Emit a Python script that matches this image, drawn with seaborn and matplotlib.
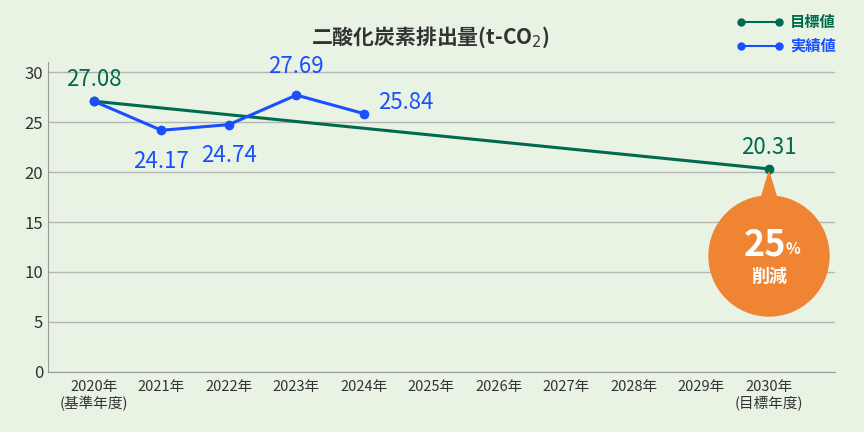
import numpy as np
import pandas as pd
import seaborn as sns
import matplotlib.pyplot as plt
from matplotlib.patches import Ellipse, Polygon
from matplotlib.lines import Line2D

plt.rcParams['font.family'] = ['Noto Sans CJK JP', 'DejaVu Sans']

years = list(range(2020, 2031))
tick_labels = ['2020年\n(基準年度)'] + [f'{y}年' for y in range(2021, 2030)] + ['2030年\n(目標年度)']
target_years = [2020, 2030]
target_values = [27.08, 20.31]
actual_years = [2020, 2021, 2022, 2023, 2024]
actual_values = [27.08, 24.17, 24.74, 27.69, 25.84]
actual_label_offsets = [None, -14, -14, 12, 1]

BG = '#e8f3e3'
GREEN = '#006a4e'
BLUE = '#1a4fff'
ORANGE = '#ef8433'

fig = plt.figure(figsize=(8.64, 4.32), dpi=100, facecolor=BG)
ax = fig.add_axes([48/864, 1 - 372/432, (835-48)/864, (372-62)/432])
ax.set_facecolor(BG)

tdf = pd.DataFrame({'year': target_years, 'value': target_values})
adf = pd.DataFrame({'year': actual_years, 'value': actual_values})
sns.lineplot(data=tdf, x='year', y='value', ax=ax, color=GREEN, lw=2.2,
             marker='o', markersize=7, markeredgewidth=0)
sns.lineplot(data=adf, x='year', y='value', ax=ax, color=BLUE, lw=2.2,
             marker='o', markersize=7, markeredgewidth=0)

ax.set_xlim(2020 - 0.68, 2030 + 0.98)
ax.set_ylim(0, 31)
ax.set_yticks(range(0, 31, 5))
ax.set_xticks(years)
ax.set_xticklabels(tick_labels, fontsize=10.5, color='#333333', linespacing=1.1)
ax.tick_params(axis='y', labelsize=12, colors='#333333', length=0)
ax.tick_params(axis='x', length=0, pad=6)
ax.grid(axis='y', color='#b5b5b5', lw=1)
ax.set_axisbelow(True)
for s in ['top', 'right']:
    ax.spines[s].set_visible(False)
for s in ['left', 'bottom']:
    ax.spines[s].set_color('#999999')
ax.set_xlabel('')
ax.set_ylabel('')

# labels
for x, y in zip(target_years, target_values):
    ax.annotate(f'{y:.2f}', (x, y), xytext=(0, 11), textcoords='offset points',
                ha='center', fontsize=16, color=GREEN)
for i in range(1, len(actual_years)):
    x, y = actual_years[i], actual_values[i]
    dy = actual_label_offsets[i]
    if i == 4:
        ax.annotate(f'{y:.2f}', (x, y), xytext=(10, 8), textcoords='offset points',
                    ha='left', va='center', fontsize=16, color=BLUE)
    else:
        ax.annotate(f'{y:.2f}', (x, y), xytext=(0, dy), textcoords='offset points',
                    ha='center', va='top' if dy < 0 else 'bottom', fontsize=16, color=BLUE)

# title
fig.text(430/864, 1 - 37/432, '二酸化炭素排出量(t-CO$_2$)', ha='center', va='center',
         fontsize=15, fontweight='bold', color='#333333')

# legend
for yy, col, lab in [(22, GREEN, '目標値'), (46, BLUE, '実績値')]:
    fig.add_artist(Line2D([741/864, 779/864], [1 - yy/432] * 2, color=col, lw=1.5,
                          marker='o', markersize=5))
    fig.text(790/864, 1 - yy/432, lab, ha='left', va='center', fontsize=11,
             fontweight='bold', color=col)

# badge
fig.add_artist(Ellipse((769/864, 1 - 256/432), 120/864, 120/432, color=ORANGE))
fig.add_artist(Polygon([(760/864, 1 - 202/432), (778/864, 1 - 202/432), (769/864, 1 - 172/432)],
                       closed=True, color=ORANGE))
fig.text(765/864, 1 - 245/432, '25', ha='center', va='center', fontsize=26,
         fontweight='bold', color='white')
fig.text(793/864, 1 - 249/432, '%', ha='center', va='center', fontsize=11,
         fontweight='bold', color='white')
fig.text(769/864, 1 - 276/432, '削減', ha='center', va='center', fontsize=13,
         fontweight='bold', color='white')

fig.savefig('out.png', dpi=100, facecolor=BG)
